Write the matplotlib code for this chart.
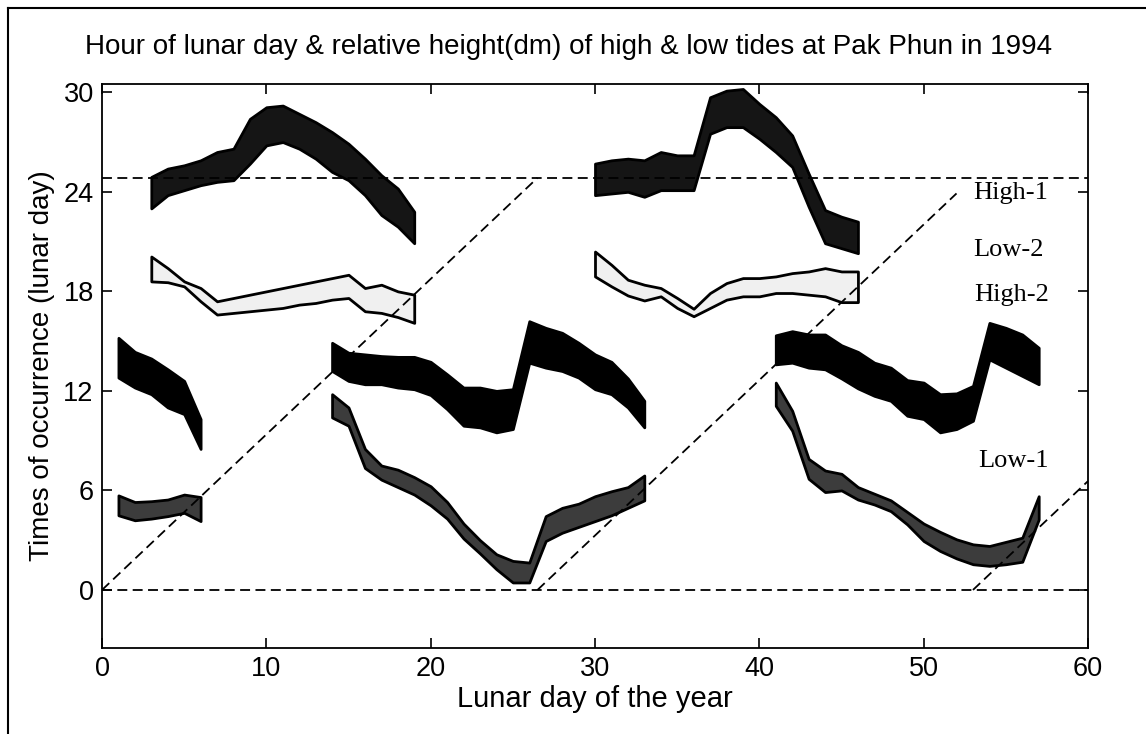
import numpy as np
import matplotlib
matplotlib.use('Agg')
import matplotlib.pyplot as plt
from matplotlib.lines import Line2D

# --- data (lunar day vs. hour of lunar day) ---
LUNAR_DAY = 24.84      # horizontal reference (hours)
CYCLE = 26.5           # lunar days per reference diagonal

# High-1 (black, speckled)
days_h1a = np.arange(3, 20)
h1a_top = [24.9, 25.4, 25.6, 25.9, 26.4, 26.6, 28.4, 29.1, 29.2, 28.7, 28.2, 27.6, 26.9, 26.0, 25.0, 24.2, 22.8]
h1a_bot = [23.0, 23.8, 24.1, 24.4, 24.6, 24.7, 25.7, 26.8, 27.0, 26.6, 26.0, 25.2, 24.7, 23.8, 22.6, 21.9, 20.9]
days_h1b = np.arange(30, 47)
h1b_top = [25.7, 25.9, 26.0, 25.9, 26.4, 26.2, 26.2, 29.7, 30.1, 30.2, 29.3, 28.5, 27.4, 25.1, 22.9, 22.5, 22.2]
h1b_bot = [23.8, 23.9, 24.0, 23.7, 24.1, 24.1, 24.1, 27.5, 27.9, 27.9, 27.2, 26.4, 25.5, 23.1, 20.9, 20.6, 20.3]

# Low-2 (light, outlined)
days_l2a = np.arange(3, 20)
l2a_top = [20.1, 19.4, 18.6, 18.2, 17.4, 17.6, 17.8, 18.0, 18.2, 18.4, 18.6, 18.8, 19.0, 18.2, 18.4, 18.0, 17.8]
l2a_bot = [18.6, 18.55, 18.3, 17.4, 16.6, 16.7, 16.8, 16.9, 17.0, 17.2, 17.3, 17.5, 17.6, 16.8, 16.7, 16.45, 16.1]
days_l2b = np.arange(30, 47)
l2b_top = [20.4, 19.6, 18.7, 18.4, 18.2, 17.6, 16.95, 17.9, 18.5, 18.8, 18.8, 18.9, 19.1, 19.2, 19.4, 19.2, 19.2]
l2b_bot = [18.9, 18.3, 17.75, 17.45, 17.7, 17.0, 16.5, 17.0, 17.5, 17.7, 17.7, 17.9, 17.9, 17.8, 17.7, 17.35, 17.35]

# High-2 (solid black)
days_h2a = np.arange(1, 7)
h2a_top = [15.2, 14.35, 13.95, 13.3, 12.6, 10.3]
h2a_bot = [12.8, 12.2, 11.8, 11.0, 10.6, 8.5]
days_h2b = np.arange(14, 34)
h2b_top = [14.9, 14.3, 14.2, 14.1, 14.05, 14.05, 13.75, 13.0, 12.2, 12.2, 12.0, 12.1,
           16.2, 15.8, 15.5, 14.9, 14.2, 13.75, 12.75, 11.4]
h2b_bot = [13.2, 12.6, 12.4, 12.4, 12.2, 12.1, 11.75, 10.9, 9.9, 9.8, 9.5, 9.7,
           13.7, 13.4, 13.2, 12.8, 12.1, 11.8, 11.0, 9.8]
days_h2c = np.arange(41, 58)
h2c_top = [15.35, 15.6, 15.4, 15.4, 14.75, 14.35, 13.7, 13.4, 12.65, 12.5, 11.8, 11.85, 12.3, 16.1, 15.8, 15.4, 14.6]
h2c_bot = [13.6, 13.7, 13.4, 13.3, 12.75, 12.15, 11.7, 11.4, 10.5, 10.3, 9.5, 9.7, 10.2, 13.9, 13.4, 12.9, 12.4]

# Low-1 (dark grey, speckled)
days_l1a = np.arange(1, 7)
l1a_top = [5.7, 5.3, 5.35, 5.45, 5.75, 5.6]
l1a_bot = [4.5, 4.2, 4.3, 4.45, 4.65, 4.15]
days_l1b = np.arange(14, 34)
l1b_top = [11.8, 11.0, 8.5, 7.5, 7.25, 6.8, 6.25, 5.3, 4.0, 3.0, 2.15, 1.75,
           1.65, 4.45, 4.95, 5.2, 5.65, 5.95, 6.2, 6.9]
l1b_bot = [10.4, 9.9, 7.35, 6.65, 6.2, 5.75, 5.1, 4.3, 3.1, 2.2, 1.25, 0.45,
           0.45, 2.95, 3.45, 3.8, 4.15, 4.5, 4.95, 5.4]
days_l1c = np.arange(41, 58)
l1c_top = [12.5, 10.8, 7.9, 7.2, 7.0, 6.2, 5.8, 5.4, 4.7, 4.0, 3.5, 3.05, 2.75, 2.65, 2.9, 3.15, 5.65]
l1c_bot = [11.1, 9.6, 6.7, 5.9, 6.0, 5.45, 5.15, 4.75, 3.95, 2.95, 2.35, 1.9, 1.55, 1.45, 1.55, 1.7, 4.25]

# reference diagonals: start / end lunar day
diag_start = [0, 26.5, 53]
diag_end = [26.5, 52, 60]

# --- plotting ---
fig = plt.figure(figsize=(11.46, 7.34), dpi=100)
ax = fig.add_axes([102/1146, 1 - 648/734, (1088 - 102)/1146, (648 - 84)/734])

def band(x, top, bot, face, edge, lw):
    ax.fill_between(x, bot, top, facecolor=face, edgecolor=edge, linewidth=lw, zorder=2)

for x, t, b in [(days_h1a, h1a_top, h1a_bot), (days_h1b, h1b_top, h1b_bot)]:
    band(x, t, b, '#151515', 'black', 2.0)
for x, t, b in [(days_l2a, l2a_top, l2a_bot), (days_l2b, l2b_top, l2b_bot)]:
    band(x, t, b, '#f0f0f0', 'black', 2.0)
for x, t, b in [(days_h2a, h2a_top, h2a_bot), (days_h2b, h2b_top, h2b_bot), (days_h2c, h2c_top, h2c_bot)]:
    band(x, t, b, 'black', 'black', 2.0)
for x, t, b in [(days_l1a, l1a_top, l1a_bot), (days_l1b, l1b_top, l1b_bot), (days_l1c, l1c_top, l1c_bot)]:
    band(x, t, b, '#3c3c3c', 'black', 2.0)

# dashed reference lines
dash = dict(color='black', lw=1.3, dashes=(5.5, 3.0), zorder=3)
ax.plot([0, 60], [0, 0], **dash)
ax.plot([0, 60], [LUNAR_DAY, LUNAR_DAY], **dash)
for s, e in zip(diag_start, diag_end):
    ax.plot([s, e], [0, (e - s) * LUNAR_DAY / CYCLE], **dash)

# series labels
serif = dict(family='Liberation Serif', fontsize=19, va='center', ha='left')
ax.text(53.0, 23.9, 'High-1', **serif)
ax.text(53.0, 20.5, 'Low-2', **serif)
ax.text(53.05, 17.75, 'High-2', **serif)
ax.text(53.3, 7.75, 'Low-1', **serif)

ax.set_xlim(0, 60)
ax.set_ylim(-3.5, 30.5)
ax.set_xticks(range(0, 61, 10))
ax.set_yticks(range(0, 31, 6))
ax.tick_params(direction='in', length=7, width=1.2, top=True, right=True,
               labelsize=19.5, pad=6)
for lab in ax.get_xticklabels() + ax.get_yticklabels():
    lab.set_family('Liberation Sans')
for sp in ax.spines.values():
    sp.set_linewidth(1.3)

ax.set_xlabel('Lunar day of the year', family='Liberation Sans', fontsize=21, labelpad=2)
ax.set_ylabel('Times of occurrence (lunar day)', family='Liberation Sans', fontsize=20, labelpad=6)
fig.text(569/1146, 1 - 47/734, 'Hour of lunar day & relative height(dm) of high & low tides at Pak Phun in 1994',
         family='Liberation Sans', fontsize=20, ha='center', va='center')

# scan frame (left and top edges)
fig.add_artist(Line2D([8/1146, 8/1146], [0, 1 - 8/734], transform=fig.transFigure, color='black', lw=1.5))
fig.add_artist(Line2D([8/1146, 1], [1 - 8/734, 1 - 8/734], transform=fig.transFigure, color='black', lw=1.5))

fig.savefig('out.png', dpi=100)
